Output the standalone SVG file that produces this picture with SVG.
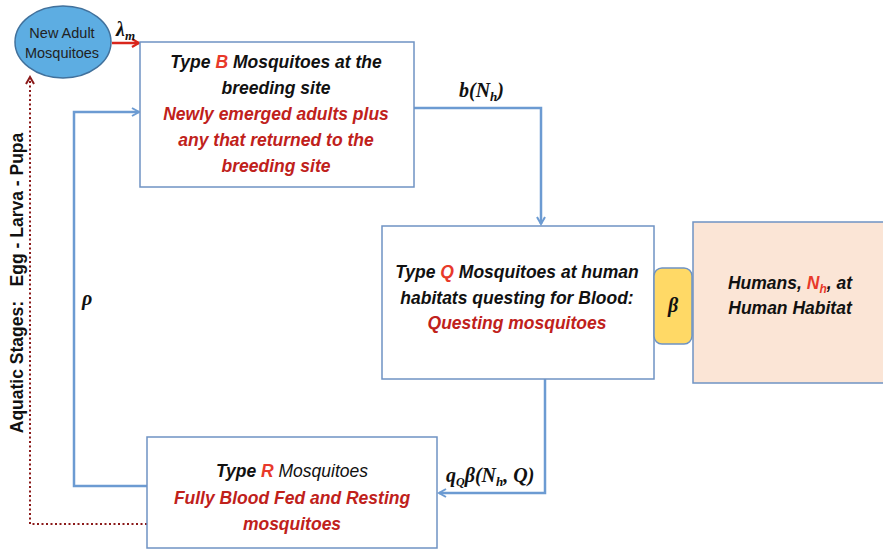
<svg xmlns="http://www.w3.org/2000/svg" width="883" height="550" viewBox="0 0 883 550">
<style>
.box{fill:#fff;stroke:#6F93C3;stroke-width:1.5}
.t{font-family:"Liberation Sans",Arial,sans-serif;font-weight:bold;font-style:italic;font-size:17.5px;text-anchor:middle;fill:#111}
.r{fill:#C0211B}
.k{fill:#E8392A}
.m{font-family:"Liberation Serif","Times New Roman",serif;font-weight:bold;font-style:italic;font-size:20px;fill:#111}
.c{fill:none;stroke:#6C9BD2;stroke-width:2.5}
</style>
<defs>
<marker id="ab" markerWidth="10" markerHeight="10" refX="8" refY="5" orient="auto" markerUnits="userSpaceOnUse">
<path d="M1,1 L8,5 L1,9" fill="none" stroke="#6C9BD2" stroke-width="2"/>
</marker>
<marker id="ar" markerWidth="10" markerHeight="10" refX="8" refY="5" orient="auto" markerUnits="userSpaceOnUse">
<path d="M1,1 L8,5 L1,9" fill="none" stroke="#D9261C" stroke-width="2.2"/>
</marker>
<marker id="ad" markerWidth="10" markerHeight="10" refX="8" refY="5" orient="auto" markerUnits="userSpaceOnUse">
<path d="M1,1 L8,5 L1,9" fill="none" stroke="#8B1A1A" stroke-width="2"/>
</marker>
</defs>

<g id="connectors">
<line x1="112" y1="43" x2="139" y2="43" stroke="#D9261C" stroke-width="2.5" marker-end="url(#ar)"/>
<polyline class="c" points="414,108 541,108 541,224" marker-end="url(#ab)"/>
<polyline class="c" points="545,379 545,493 439,493" marker-end="url(#ab)"/>
<polyline class="c" points="147,486 74,486 74,112 139,112" marker-end="url(#ab)"/>
<polyline points="147,524 30,524 30,77" fill="none" stroke="#8B1A1A" stroke-width="2" stroke-dasharray="2,2.5" marker-end="url(#ad)"/>
<text class="m" x="116" y="36">λ<tspan font-size="13" dy="4">m</tspan></text>
<text class="m" x="459" y="97">b(N<tspan font-size="13" dy="4">h</tspan><tspan dy="-4">)</tspan></text>
<text class="m" x="446" y="482">q<tspan font-size="12" dy="4">Q</tspan><tspan dy="-4">β(N</tspan><tspan font-size="13" dy="4">h</tspan><tspan dy="-4">, Q)</tspan></text>
<text class="m" x="82" y="305">ρ</text>
<text font-family="'Liberation Sans',Arial,sans-serif" font-weight="bold" font-size="17.5" fill="#111" text-anchor="middle" transform="translate(23,283) rotate(-90)" xml:space="preserve">Aquatic Stages:   Egg - Larva - Pupa</text>
</g>

<g id="new-adult">
<ellipse cx="63" cy="42" rx="48" ry="36" fill="#5DADE2" stroke="#41719C" stroke-width="1.5"/>
<text font-family="'Liberation Sans',Arial,sans-serif" font-size="14.5" fill="#222" text-anchor="middle"><tspan x="62" y="38">New Adult</tspan><tspan x="62" y="58">Mosquitoes</tspan></text>
</g>

<g id="type-b">
<rect class="box" x="140" y="42" width="274" height="145"/>
<text class="t"><tspan x="276" y="68">Type <tspan class="k">B</tspan> Mosquitoes at the</tspan><tspan x="276" y="94">breeding site</tspan><tspan class="r" x="276" y="120">Newly emerged adults plus</tspan><tspan class="r" x="276" y="146">any that returned to the</tspan><tspan class="r" x="276" y="172">breeding site</tspan></text>
</g>

<g id="type-q">
<rect class="box" x="382" y="226" width="272" height="153"/>
<text class="t"><tspan x="517" y="278">Type <tspan class="k">Q</tspan> Mosquitoes at human</tspan><tspan x="517" y="304">habitats questing for Blood:</tspan><tspan class="r" x="517" y="329">Questing mosquitoes</tspan></text>
</g>

<g id="beta">
<rect x="654" y="268" width="38" height="76" rx="8" fill="#FFD966" stroke="#6F93C3" stroke-width="1.5"/>
<text class="m" x="673" y="312" text-anchor="middle" font-size="18">β</text>
</g>

<g id="humans">
<rect x="693" y="222" width="195" height="161" fill="#FBE5D6" stroke="#6F93C3" stroke-width="1.5"/>
<text class="t"><tspan x="790" y="289">Humans, <tspan class="k">N<tspan font-size="12" dy="4">h</tspan></tspan><tspan dy="-4">, at</tspan></tspan><tspan x="790" y="314">Human Habitat</tspan></text>
</g>

<g id="type-r">
<rect class="box" x="147" y="437" width="290" height="111"/>
<text class="t"><tspan x="292" y="477">Type <tspan class="k">R</tspan> <tspan font-weight="normal">Mosquitoes</tspan></tspan><tspan class="r" x="292" y="504">Fully Blood Fed and Resting</tspan><tspan class="r" x="292" y="530">mosquitoes</tspan></text>
</g>
</svg>
